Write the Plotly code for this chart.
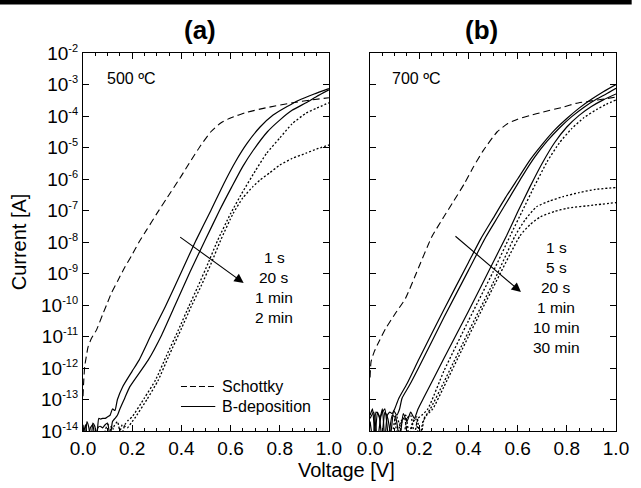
import plotly.graph_objects as go

# ---------------- data (log10 of current [A]) ----------------
# Panel (a) 500 C
schottky_a_v = [0.0, 0.003, 0.007, 0.012, 0.021, 0.035, 0.055, 0.08, 0.10, 0.115, 0.14, 0.17, 0.20, 0.228, 0.26, 0.30, 0.34, 0.40, 0.44, 0.48, 0.52, 0.56, 0.60, 0.667, 0.75, 0.853, 0.93, 1.0]
schottky_a_log = [-12.9, -12.4, -11.95, -11.7, -11.32, -11.05, -10.79, -10.3, -9.92, -9.63, -9.25, -8.8, -8.4, -8.0, -7.6, -7.1, -6.62, -5.9, -5.4, -4.92, -4.5, -4.22, -4.06, -3.88, -3.73, -3.58, -3.49, -3.42]

b1s_a_v = [0.0, 0.008, 0.016, 0.024, 0.032, 0.04, 0.048, 0.056, 0.064, 0.072, 0.08, 0.09, 0.1, 0.11, 0.12, 0.13, 0.14, 0.161, 0.2, 0.228, 0.28, 0.335, 0.4, 0.46, 0.52, 0.573, 0.62, 0.667, 0.72, 0.773, 0.83, 0.88, 0.94, 1.0]
b1s_a_log = [-13.8, -14.3, -13.7, -13.9, -14.4, -13.75, -13.85, -14.2, -13.6, -13.62, -13.6, -13.6, -13.55, -13.5, -13.3, -13.35, -13.0, -12.6, -12.1, -11.75, -10.9, -10.05, -8.95, -7.94, -7.0, -6.14, -5.45, -4.87, -4.35, -3.97, -3.7, -3.49, -3.3, -3.13]

b20s_a_v = [0.0, 0.01, 0.02, 0.03, 0.04, 0.05, 0.06, 0.07, 0.08, 0.09, 0.1, 0.11, 0.12, 0.13, 0.14, 0.15, 0.17, 0.19, 0.265, 0.32, 0.372, 0.435, 0.497, 0.555, 0.605, 0.65, 0.693, 0.75, 0.80, 0.85, 0.907, 0.95, 1.0]
b20s_a_log = [-14.2, -13.8, -14.3, -13.9, -13.8, -14.4, -13.9, -13.85, -13.9, -13.8, -13.75, -14.2, -13.7, -13.6, -13.5, -13.3, -12.95, -12.6, -11.75, -10.95, -10.05, -8.95, -7.94, -7.0, -6.25, -5.6, -5.08, -4.5, -4.13, -3.82, -3.58, -3.38, -3.17]

b1m_a_v = [0.08, 0.1, 0.12, 0.14, 0.155, 0.17, 0.185, 0.2, 0.25, 0.295, 0.34, 0.388, 0.43, 0.468, 0.51, 0.548, 0.60, 0.65, 0.70, 0.747, 0.80, 0.85, 0.907, 0.95, 1.0]
b1m_a_log = [-14.3, -13.8, -13.9, -13.7, -14.2, -13.8, -13.65, -13.55, -12.95, -12.38, -11.6, -10.79, -10.05, -9.4, -8.65, -7.94, -7.1, -6.4, -5.75, -5.18, -4.7, -4.25, -3.91, -3.75, -3.58]

b2m_a_v = [0.1, 0.12, 0.14, 0.16, 0.18, 0.2, 0.21, 0.26, 0.305, 0.35, 0.40, 0.44, 0.48, 0.52, 0.56, 0.61, 0.65, 0.69, 0.72, 0.76, 0.80, 0.85, 0.907, 0.95, 1.0]
b2m_a_log = [-14.1, -13.9, -14.3, -13.8, -13.9, -13.7, -13.6, -13.0, -12.4, -11.6, -10.75, -10.05, -9.4, -8.7, -7.94, -7.1, -6.6, -6.25, -6.03, -5.8, -5.56, -5.35, -5.18, -5.05, -4.92]

# Panel (b) 700 C
schottky_b_v = [0.0, 0.004, 0.017, 0.04, 0.064, 0.10, 0.144, 0.19, 0.25, 0.30, 0.34, 0.384, 0.42, 0.46, 0.517, 0.56, 0.60, 0.651, 0.70, 0.784, 0.837, 0.9, 0.95, 1.0]
schottky_b_log = [-12.3, -11.8, -11.48, -11.1, -10.74, -10.3, -9.79, -8.95, -7.85, -7.2, -6.7, -6.14, -5.62, -5.1, -4.5, -4.24, -4.1, -3.98, -3.88, -3.72, -3.6, -3.52, -3.46, -3.4]

b1s_b_v = [0.0, 0.01, 0.02, 0.03, 0.04, 0.05, 0.06, 0.07, 0.08, 0.09, 0.1, 0.117, 0.15, 0.2, 0.3, 0.4, 0.45, 0.5, 0.55, 0.6, 0.65, 0.7, 0.75, 0.8, 0.85, 0.9, 0.95, 1.0]
b1s_b_log = [-13.5, -13.3, -14.2, -13.4, -13.6, -13.3, -14.3, -13.5, -13.4, -13.45, -13.3, -12.96, -12.5, -11.7, -10.15, -8.65, -7.9, -7.25, -6.6, -6.0, -5.4, -4.9, -4.45, -4.08, -3.75, -3.47, -3.22, -3.0]

b5s_b_v = [0.0, 0.012, 0.024, 0.036, 0.048, 0.06, 0.072, 0.084, 0.096, 0.108, 0.12, 0.13, 0.16, 0.2, 0.3, 0.4, 0.47, 0.52, 0.57, 0.62, 0.67, 0.72, 0.77, 0.82, 0.87, 0.92, 0.96, 1.0]
b5s_b_log = [-13.7, -14.3, -13.4, -13.5, -14.2, -13.4, -13.6, -14.1, -13.35, -13.5, -13.3, -12.96, -12.55, -11.95, -10.4, -8.9, -7.85, -7.2, -6.55, -5.9, -5.3, -4.8, -4.38, -4.02, -3.72, -3.47, -3.3, -3.12]

b20s_b_v = [0.0, 0.015, 0.03, 0.045, 0.06, 0.075, 0.09, 0.105, 0.12, 0.135, 0.15, 0.165, 0.18, 0.195, 0.217, 0.3, 0.4, 0.5, 0.555, 0.6, 0.65, 0.7, 0.75, 0.8, 0.85, 0.9, 0.95, 1.0]
b20s_b_log = [-13.6, -13.4, -14.3, -13.5, -13.3, -14.2, -13.5, -13.6, -14.3, -13.45, -13.7, -13.4, -13.6, -13.3, -12.96, -11.7, -10.2, -8.65, -7.8, -7.05, -6.25, -5.5, -4.85, -4.35, -3.98, -3.7, -3.48, -3.3]

b1m_b_v = [0.09, 0.105, 0.12, 0.135, 0.15, 0.165, 0.18, 0.195, 0.21, 0.235, 0.3, 0.4, 0.5, 0.57, 0.62, 0.67, 0.72, 0.77, 0.82, 0.87, 0.92, 0.96, 1.0]
b1m_b_log = [-14.2, -13.5, -13.8, -14.3, -13.6, -13.5, -14.1, -13.6, -13.5, -13.3, -12.1, -10.5, -8.95, -7.8, -7.0, -6.2, -5.45, -4.85, -4.4, -4.05, -3.8, -3.63, -3.49]

b10m_b_v = [0.1, 0.115, 0.13, 0.145, 0.16, 0.175, 0.19, 0.205, 0.22, 0.245, 0.3, 0.4, 0.5, 0.59, 0.63, 0.677, 0.73, 0.784, 0.85, 0.917, 1.0]
b10m_b_log = [-13.6, -14.3, -13.7, -13.5, -14.2, -13.7, -13.55, -14.3, -13.6, -13.3, -12.45, -10.85, -9.3, -7.8, -7.3, -6.88, -6.7, -6.56, -6.43, -6.33, -6.27]

b30m_b_v = [0.11, 0.125, 0.14, 0.155, 0.17, 0.185, 0.2, 0.215, 0.23, 0.255, 0.3, 0.4, 0.5, 0.61, 0.65, 0.693, 0.75, 0.8, 0.907, 1.0]
b30m_b_log = [-14.3, -13.7, -13.6, -14.2, -13.8, -13.6, -14.3, -13.7, -13.5, -13.3, -12.6, -11.0, -9.45, -7.8, -7.45, -7.2, -7.03, -6.93, -6.83, -6.75]

ytick_exps = [-14, -13, -12, -11, -10, -9, -8, -7, -6, -5, -4, -3, -2]
xtick_vals = [0.0, 0.2, 0.4, 0.6, 0.8, 1.0]
times_a = ["1 s", "20 s", "1 min", "2 min"]
times_b = ["1 s", "5 s", "20 s", "1 min", "10 min", "30 min"]

# ---------------- layout geometry ----------------
W, H = 641, 488
L, R, T, B = 83, 14, 53, 57
PW, PH = W - L - R, H - T - B
FONT = "Liberation Sans, Arial, sans-serif"


def px(x):
    return (x - L) / PW


def py(y):
    return (T + PH - y) / PH


def cur(logs):
    return [10 ** v for v in logs]


fig = go.Figure()

SOLID = dict(color="black", width=1.2, shape="spline", smoothing=0.5)
DASHED = dict(color="black", width=1.1, dash="7px,4px", shape="spline", smoothing=0.5)
DOTTED = dict(color="black", width=1.3, dash="2px,2px", shape="spline", smoothing=0.5)

curves = [
    ("x", "y", schottky_a_v, schottky_a_log, DASHED),
    ("x", "y", b1s_a_v, b1s_a_log, SOLID),
    ("x", "y", b20s_a_v, b20s_a_log, SOLID),
    ("x", "y", b1m_a_v, b1m_a_log, DOTTED),
    ("x", "y", b2m_a_v, b2m_a_log, DOTTED),
    ("x2", "y2", schottky_b_v, schottky_b_log, DASHED),
    ("x2", "y2", b1s_b_v, b1s_b_log, SOLID),
    ("x2", "y2", b5s_b_v, b5s_b_log, SOLID),
    ("x2", "y2", b20s_b_v, b20s_b_log, SOLID),
    ("x2", "y2", b1m_b_v, b1m_b_log, DOTTED),
    ("x2", "y2", b10m_b_v, b10m_b_log, DOTTED),
    ("x2", "y2", b30m_b_v, b30m_b_log, DOTTED),
]
for xa, ya, v, lg, ln in curves:
    fig.add_trace(go.Scatter(x=v, y=cur(lg), mode="lines", line=ln,
                             xaxis=xa, yaxis=ya, showlegend=False, hoverinfo="skip"))

dom_a = [0, (334 - L) / PW]
dom_b = [(376 - L) / PW, 1]

xcommon = dict(range=[0, 1], tickvals=xtick_vals, tickformat=".1f", ticks="inside",
               ticklen=6, tickwidth=1, tickcolor="black", showline=True, linecolor="black",
               linewidth=1.2, mirror="allticks", showgrid=False, zeroline=False,
               tickfont=dict(family=FONT, size=19, color="black"),
               minor=dict(dtick=0.05, tick0=0, ticks="inside", ticklen=3, tickcolor="black"))

ytext = ['10<sup><span style="font-size:11px">-%d</span></sup>' % (-e) for e in ytick_exps]
ycommon = dict(type="log", range=[-14, -2], tickvals=[10 ** e for e in ytick_exps],
               ticks="inside", ticklen=6, tickwidth=1, tickcolor="black", showline=True,
               linecolor="black", linewidth=1.2, mirror="allticks", showgrid=False,
               zeroline=False, tickfont=dict(family=FONT, size=19, color="black"),
               minor=dict(ticks="inside", ticklen=3, tickcolor="black", showgrid=False))

fig.update_layout(
    width=W, height=H, margin=dict(l=L, r=R, t=T, b=B),
    paper_bgcolor="white", plot_bgcolor="white",
    xaxis=dict(domain=dom_a, anchor="y", **xcommon),
    xaxis2=dict(domain=dom_b, anchor="y2", **xcommon),
    yaxis=dict(domain=[0, 1], anchor="x", ticktext=ytext, ticklabelstandoff=0, **ycommon),
    yaxis2=dict(domain=[0, 1], anchor="x2", showticklabels=False, **ycommon),
    showlegend=False,
)

ann = []


def text(x, y, s, size=16, xanchor="center", bold=False, angle=0):
    ann.append(dict(x=px(x), y=py(y), xref="paper", yref="paper", text=("<b>%s</b>" % s) if bold else s,
                    showarrow=False, xanchor=xanchor, yanchor="middle", textangle=angle,
                    font=dict(family=FONT, size=size, color="black")))


text(202, 30, "(a)", size=26, bold=True)
text(490, 30, "(b)", size=26, bold=True)
text(105, 78, "500 ºC", size=16, xanchor="left")
text(396, 78, "700 ºC", size=16, xanchor="left")
for i, s in enumerate(times_a):
    text(278, 257.5 + 20 * i, s, size=15.5)
for i, s in enumerate(times_b):
    text(566, 247.5 + 20 * i, s, size=15.5)
text(223, 386, "Schottky", size=16, xanchor="left")
text(223, 406, "B-deposition", size=16, xanchor="left")
text(352, 470, "Voltage [V]", size=20)
text(18, 242, "Current [A]", size=20, angle=-90)

# arrows
for (tx, ty), (hx, hy) in [((182, 236), (247, 283)), ((463, 235), (530, 292))]:
    ann.append(dict(x=px(hx), y=py(hy), xref="paper", yref="paper", text="", showarrow=True,
                    ax=tx - hx, ay=ty - hy, arrowhead=2, arrowsize=1.7, arrowwidth=1.1,
                    arrowcolor="black", standoff=0))

fig.update_layout(annotations=ann)

shapes = [
    dict(type="rect", xref="paper", yref="paper", x0=px(-2), x1=px(W + 2), y0=py(4.5), y1=py(-2),
         fillcolor="black", line=dict(width=0), layer="above"),
    dict(type="line", xref="paper", yref="paper", x0=px(183), x1=px(218), y0=py(386.5), y1=py(386.5),
         line=dict(color="black", width=1.1, dash="6px,3px")),
    dict(type="line", xref="paper", yref="paper", x0=px(183), x1=px(218), y0=py(406.5), y1=py(406.5),
         line=dict(color="black", width=1.2)),
]
fig.update_layout(shapes=shapes)

fig.write_html("out.html", config={"displayModeBar": False},
               post_script="document.body.style.margin='0';document.body.style.padding='0';")
